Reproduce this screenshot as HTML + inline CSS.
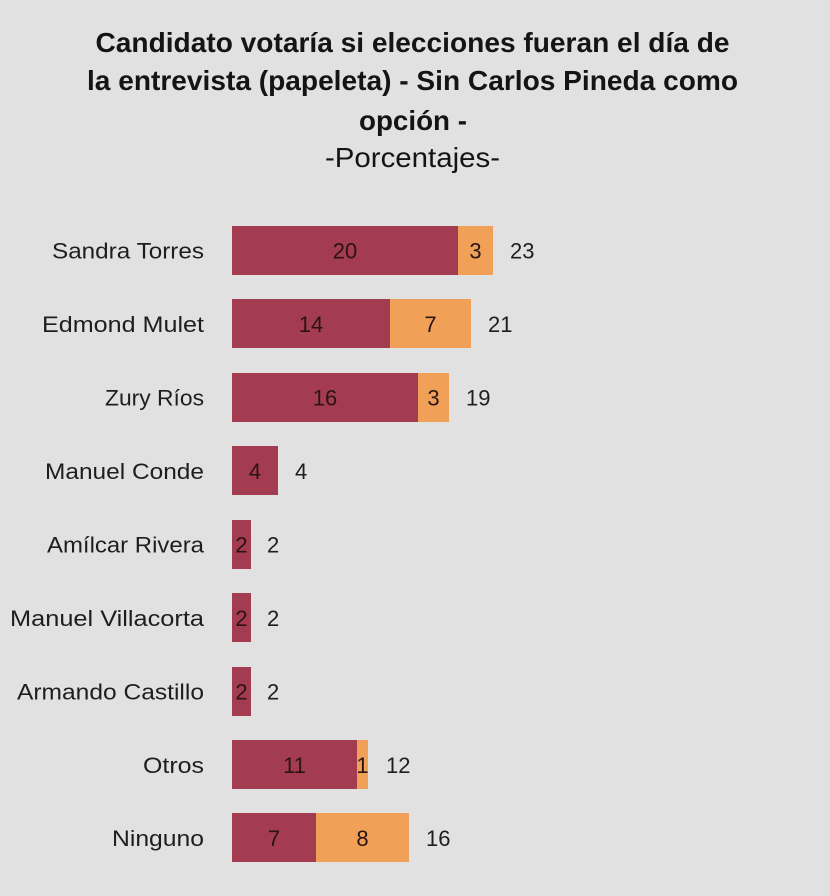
<!DOCTYPE html>
<html>
<head>
<meta charset="utf-8">
<style>
html,body{margin:0;padding:0;background:#e1e1e1;}
svg{display:block;}
text{font-family:"Liberation Sans",sans-serif;}
</style>
</head>
<body>
<svg width="830" height="896" viewBox="0 0 830 896" xmlns="http://www.w3.org/2000/svg">
<rect x="0" y="0" width="830" height="896" fill="#e1e1e1"/>
<g fill="#141414" font-weight="bold" font-size="28" text-anchor="middle">
<text x="412.5" y="52" textLength="634" lengthAdjust="spacingAndGlyphs">Candidato votaría si elecciones fueran el día de</text>
<text x="412.5" y="90" textLength="651" lengthAdjust="spacingAndGlyphs">la entrevista (papeleta) - Sin Carlos Pineda como</text>
<text x="413" y="130" textLength="108" lengthAdjust="spacingAndGlyphs">opción -</text>
</g>
<text x="412.5" y="167" fill="#141414" font-size="28" text-anchor="middle" textLength="175" lengthAdjust="spacingAndGlyphs">-Porcentajes-</text>

<g fill="#a33b51">
<rect x="232" y="226" width="226" height="49"/>
<rect x="232" y="299" width="158" height="49"/>
<rect x="232" y="373" width="186" height="49"/>
<rect x="232" y="446" width="46" height="49"/>
<rect x="232" y="520" width="19" height="49"/>
<rect x="232" y="593" width="19" height="49"/>
<rect x="232" y="667" width="19" height="49"/>
<rect x="232" y="740" width="125" height="49"/>
<rect x="232" y="813" width="84" height="49"/>
</g>
<g fill="#f0a057">
<rect x="458" y="226" width="35" height="49"/>
<rect x="390" y="299" width="81" height="49"/>
<rect x="418" y="373" width="31" height="49"/>
<rect x="357" y="740" width="11" height="49"/>
<rect x="316" y="813" width="93" height="49"/>
</g>

<g fill="#1e1e1e" font-size="22" text-anchor="end">
<text x="204" y="258.5" textLength="152" lengthAdjust="spacingAndGlyphs">Sandra Torres</text>
<text x="204" y="332" textLength="162" lengthAdjust="spacingAndGlyphs">Edmond Mulet</text>
<text x="204" y="405.5" textLength="99" lengthAdjust="spacingAndGlyphs">Zury Ríos</text>
<text x="204" y="479" textLength="159" lengthAdjust="spacingAndGlyphs">Manuel Conde</text>
<text x="204" y="552.5" textLength="157" lengthAdjust="spacingAndGlyphs">Amílcar Rivera</text>
<text x="204" y="626" textLength="194" lengthAdjust="spacingAndGlyphs">Manuel Villacorta</text>
<text x="204" y="699.5" textLength="187" lengthAdjust="spacingAndGlyphs">Armando Castillo</text>
<text x="204" y="773" textLength="61" lengthAdjust="spacingAndGlyphs">Otros</text>
<text x="204" y="846" textLength="92" lengthAdjust="spacingAndGlyphs">Ninguno</text>
</g>

<g fill="#2a1414" font-size="22" text-anchor="middle">
<text x="345" y="258.5">20</text>
<text x="475.5" y="258.5">3</text>
<text x="311" y="332">14</text>
<text x="430.5" y="332">7</text>
<text x="325" y="405.5">16</text>
<text x="433.5" y="405.5">3</text>
<text x="255" y="479">4</text>
<text x="241.5" y="552.5">2</text>
<text x="241.5" y="626">2</text>
<text x="241.5" y="699.5">2</text>
<text x="294.5" y="773">11</text>
<text x="362.5" y="773">1</text>
<text x="274" y="846">7</text>
<text x="362.5" y="846">8</text>
</g>

<g fill="#1e1e1e" font-size="22" text-anchor="start">
<text x="510" y="258.5">23</text>
<text x="488" y="332">21</text>
<text x="466" y="405.5">19</text>
<text x="295" y="479">4</text>
<text x="267" y="552.5">2</text>
<text x="267" y="626">2</text>
<text x="267" y="699.5">2</text>
<text x="386" y="773">12</text>
<text x="426" y="846">16</text>
</g>
</svg>
</body>
</html>
